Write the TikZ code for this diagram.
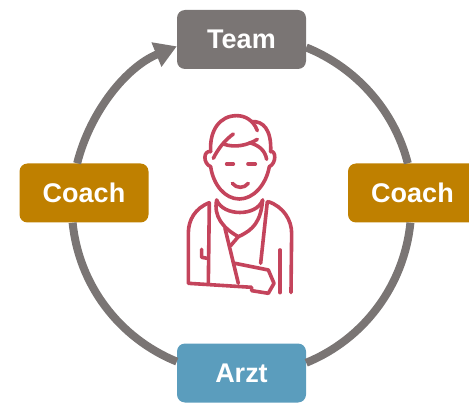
\documentclass[tikz,border=0pt]{standalone}
\usepackage{fontspec}
\setmainfont{Liberation Sans}
\usetikzlibrary{arrows.meta}
\definecolor{ring grey}{RGB}{122,117,116}
\definecolor{coach gold}{RGB}{191,128,0}
\definecolor{doctor blue}{RGB}{91,157,189}
\definecolor{patient red}{RGB}{196,68,92}

\begin{document}
\begin{tikzpicture}[
					x=1pt, y=1pt,
					role box/.style={rounded corners=8pt, minimum width=129pt, minimum height=59pt, inner sep=0pt, text=white, font=\fontsize{27}{30}\selectfont\bfseries},
					ring line/.style={draw=ring grey, line width=8pt},
					icon line/.style={draw=patient red, line width=3.6pt, line cap=round, line join=round},
				]
					\useasboundingbox (0,0) rectangle (469,405);
					
					\node[role box, fill=ring grey] (team) at (241.5,365.5) {Team};
					\node[role box, fill=coach gold] (coachleft) at (84,212) {Coach};
					\node[role box, fill=coach gold] (coachright) at (412.5,212) {Coach};
					\node[role box, fill=doctor blue] (arzt) at (241.5,32) {Arzt};
					
					\draw[ring line] (team.-7.5) to[out=-22, in=104.3, looseness=0.9] (coachright.99.5);
					\draw[ring line] (coachright.266) to[out=-95.8, in=22.2, looseness=0.92] (arzt.9.7);
					\draw[ring line] (arzt.170.3) to[out=157.8, in=275.8, looseness=0.92] (coachleft.249.2);
					\draw[ring line, -{Triangle[length=22pt, width=25pt]}] (coachleft.103) to[out=75.7, in=202.2, looseness=0.9] (team.186.5);
					
					\begin{scope}[shift={(170,305)}, x=0.3333pt, y=-0.3333pt]
						% head
						\draw[icon line] (122,155) .. controls (118,90) and (150,47) .. (200,47) .. controls (225,47) and (250,60) .. (262,92);
						\draw[icon line] (245,65) .. controls (280,62) and (305,90) .. (302,155);
						\draw[icon line] (122,155) .. controls (100,150) and (98,190) .. (122,200) .. controls (130,255) and (165,297) .. (208,297) .. controls (250,297) and (288,255) .. (298,200) .. controls (320,190) and (318,150) .. (302,155);
						\draw[icon line] (130,175) .. controls (145,145) and (165,120) .. (190,102);
						\draw[icon line] (160,132) .. controls (195,145) and (235,135) .. (262,118);
						\draw[icon line] (238,128) .. controls (265,135) and (285,150) .. (290,178);
						% face
						\draw[icon line] (170,192) -- (190,192);
						\draw[icon line] (234,192) -- (256,192);
						\draw[icon line] (187,250) .. controls (200,266) and (222,266) .. (235,250);
						% collar and sling
						\draw[icon line] (140,300) .. controls (160,350) and (260,350) .. (278,300);
						\draw[icon line] (140,300) .. controls (130,350) and (160,385) .. (205,410) .. controls (250,390) and (272,365) .. (278,300);
						\draw[icon line] (165,385) -- (205,550);
						\draw[icon line] (205,410) -- (182,437);
						% jacket
						\draw[icon line] (118,308) .. controls (75,325) and (55,360) .. (55,400) -- (55,550) -- (245,562) -- (245,572) -- (295,580) -- (312,550) -- (295,510) -- (195,490);
						\draw[icon line] (118,308) -- (115,550);
						\draw[icon line] (292,305) -- (272,490);
						\draw[icon line] (295,305) .. controls (340,320) and (365,360) .. (365,400) -- (363,578);
						\draw[icon line] (330,450) -- (330,578);
						\draw[icon line] (95,448) -- (95,472) -- (112,475);
					\end{scope}
				\end{tikzpicture}
\end{document}
